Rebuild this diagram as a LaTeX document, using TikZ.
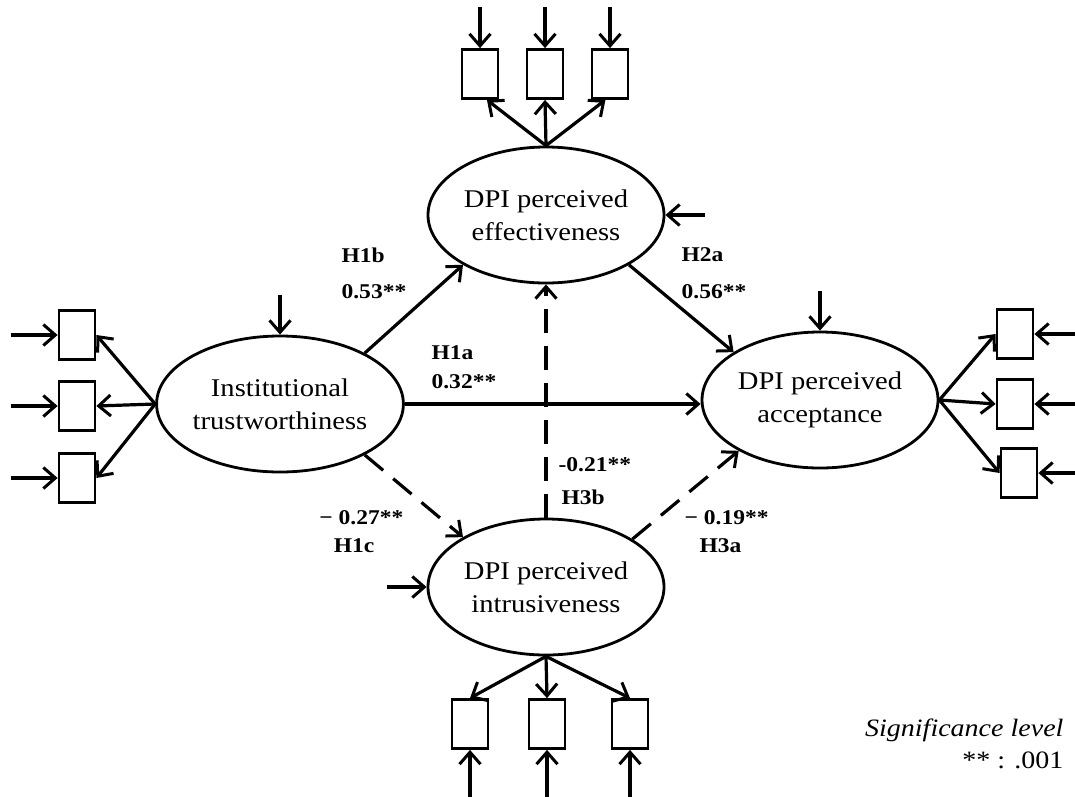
\documentclass[tikz,border=0pt]{standalone}
\usepackage{fontspec}
\setmainfont[FakeStretch=1.12]{Liberation Serif}
\usetikzlibrary{arrows.meta,shapes.geometric,calc}
\begin{document}
\begin{tikzpicture}[x=1pt,y=-1pt,
  line width=3.2pt,
  lat/.style={ellipse,draw,line width=2.8pt,minimum width=236pt,minimum height=136pt,inner sep=0pt,align=center,font=\fontsize{25.5}{33}\selectfont},
  ind/.style={rectangle,draw,line width=2.8pt,minimum width=36pt,minimum height=49pt,inner sep=0pt},
  arr/.style={-{Straight Barb[length=12pt,width=21pt,line width=3pt]}},
  dsh/.style={arr,dash pattern=on 24pt off 13pt},
  lab/.style={font=\fontsize{21}{24}\selectfont\bfseries,inner sep=0pt},
  txt/.style={font=\fontsize{25}{30}\selectfont,inner sep=0pt},
]
\useasboundingbox (0,0) rectangle (1075,796);

% latent variables
\node[lat] (eff)   at (546,215) {DPI perceived\\effectiveness};
\node[lat] (inst)  at (280,404) {Institutional\\trustworthiness};
\node[lat] (acc)   at (820,400) {DPI perceived\\acceptance};
\node[lat] (intr)  at (546,587) {DPI perceived\\intrusiveness};

% indicators
\node[ind] (t1) at (480,74) {};
\node[ind] (t2) at (545,74) {};
\node[ind] (t3) at (610,74) {};
\node[ind] (l1) at (77,335) {};
\node[ind] (l2) at (77,406) {};
\node[ind] (l3) at (77,478) {};
\node[ind] (r1) at (1015,334) {};
\node[ind] (r2) at (1015,404) {};
\node[ind] (r3) at (1019,473) {};
\node[ind] (b1) at (470,724) {};
\node[ind] (b2) at (547,724) {};
\node[ind] (b3) at (630,724) {};

% structural paths
\draw[arr] (inst.31) -- (eff.211);
\draw[arr] (eff.329) -- (acc.151.6);
\draw[arr] (inst.east) -- (inst.east -| acc.west);
\draw[dsh] (inst.-31) -- (intr.149.4);
\draw[dsh] (intr.29.7) -- (acc.212.8);
\draw[dsh] (intr.north) -- (eff.south);

% measurement paths
\draw[arr] (eff.north) -- (t1.-75);
\draw[arr] (eff.north) -- (t2.south);
\draw[arr] (eff.north) -- (t3.-100);
\foreach \n in {t1,t2,t3} \draw[arr] ($(\n.north)+(0,-41)$) -- (\n.north);

\draw[arr] (inst.west) -- (l1.east);
\draw[arr] (inst.west) -- (l2.east);
\draw[arr] (inst.west) -- (l3.east);
\foreach \n in {l1,l2,l3} \draw[arr] ($(\n.west)+(-47,0)$) -- (\n.west);

\draw[arr] (acc.east) -- (r1.west);
\draw[arr] (acc.east) -- (r2.west);
\draw[arr] (acc.east) -- (r3.west);
\foreach \n in {r1,r2,r3} \draw[arr] ($(\n.east)+(45,0)$) -- (\n.east);

\draw[arr] (intr.south) -- (b1.north);
\draw[arr] (intr.south) -- (b2.north);
\draw[arr] (intr.south) -- (b3.north);
\foreach \n in {b1,b2,b3} \draw[arr] ($(\n.south)+(0,49)$) -- (\n.south);

% disturbances
\draw[arr] ($(inst.north)+(0,-40)$) -- (inst.north);
\draw[arr] ($(acc.north)+(0,-40)$) -- (acc.north);
\draw[arr] ($(eff.east)+(40,0)$) -- (eff.east);
\draw[arr] ($(intr.west)+(-40,0)$) -- (intr.west);

% labels
\node[lab,anchor=west] (h1b) at (340,255) {H1b};
\node[lab,anchor=west] (c1b) at (340,292) {0.53**};
\node[lab,anchor=west] (h2a) at (680,255) {H2a};
\node[lab,anchor=west] (c2a) at (680,292) {0.56**};
\node[lab,anchor=west] (h1a) at (430,353) {H1a};
\node[lab,anchor=west] (c1a) at (430,382) {0.32**};
\node[lab,anchor=west] (c3b) at (557,465) {-0.21**};
\node[lab,anchor=west] (h3b) at (560,497) {H3b};
\node[lab,anchor=east] (c1c) at (405,518) {− 0.27**};
\node[lab,anchor=east] (h1c) at (376,546) {H1c};
\node[lab,anchor=west] (c3a) at (683,518) {− 0.19**};
\node[lab,anchor=west] (h3a) at (698,546) {H3a};

% legend
\node[txt,anchor=east] (sig) at (1065,730) {\itshape Significance level};
\node[txt,anchor=east] (lev) at (1065,760) {** : .001};
\end{tikzpicture}
\end{document}
